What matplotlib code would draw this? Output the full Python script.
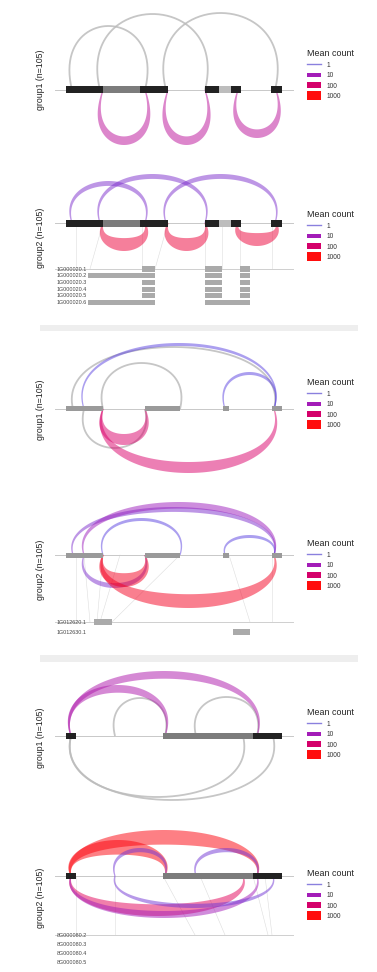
import numpy as np
import matplotlib
matplotlib.use("Agg")
import matplotlib.pyplot as plt
from matplotlib.patches import Rectangle, Polygon, Patch
from matplotlib.lines import Line2D
from matplotlib.legend_handler import HandlerPatch

plt.rcParams['font.family'] = ['Liberation Sans', 'DejaVu Sans']

# ---------------- data ----------------
# gene 1 exons (position units)
g1_exon_start = [66, 103, 140, 205, 219, 231, 271]
g1_exon_end = [103, 140, 168, 219, 231, 241, 282]
g1_exon_shade = ['dark', 'mid', 'dark', 'dark', 'light', 'dark', 'dark']
# gene 2 exons
g2_exon_start = [66, 145, 223, 272]
g2_exon_end = [103, 180, 229, 282]
g2_exon_shade = ['grey', 'grey', 'grey', 'grey']
# gene 3 exons
g3_exon_start = [66, 163, 253]
g3_exon_end = [76, 253, 282]
g3_exon_shade = ['dark', 'mid', 'dark']

# junctions: start, end, side (+1 above / -1 below), arc height, mean count (0 = none)
g1_grp1_jx_start = [72, 100, 166, 103, 168, 238]
g1_grp1_jx_end = [145, 205, 275, 145, 205, 276]
g1_grp1_jx_side = [1, 1, 1, -1, -1, -1]
g1_grp1_jx_height = [64, 76, 77, 55, 55, 48]
g1_grp1_jx_count = [0, 0, 0, 25, 25, 25]

g1_grp2_jx_start = [72, 100, 166, 103, 168, 238]
g1_grp2_jx_end = [145, 205, 275, 145, 205, 276]
g1_grp2_jx_side = [1, 1, 1, -1, -1, -1]
g1_grp2_jx_height = [42, 49, 49, 28, 28, 23]
g1_grp2_jx_count = [3, 3, 3, 300, 300, 300]

g2_grp1_jx_start = [73, 103, 84, 225, 84, 103, 103]
g2_grp1_jx_end = [274, 180, 274, 274, 145, 145, 274]
g2_grp1_jx_side = [1, 1, 1, 1, -1, -1, -1]
g2_grp1_jx_height = [62, 46, 66, 37, 39, 36, 64]
g2_grp1_jx_count = [0, 0, 1, 1, 0, 100, 100]

g2_grp2_jx_start = [73, 84, 103, 225, 84, 103, 103]
g2_grp2_jx_end = [274, 274, 180, 274, 145, 145, 274]
g2_grp2_jx_side = [1, 1, 1, 1, -1, -1, -1]
g2_grp2_jx_height = [48, 53, 37, 20, 33, 32, 53]
g2_grp2_jx_count = [3, 8, 1, 1, 3, 500, 500]

g3_grp1_jx_start = [115, 196, 71, 71, 71, 71]
g3_grp1_jx_end = [165, 257, 257, 165, 243, 273]
g3_grp1_jx_side = [1, 1, 1, 1, -1, -1]
g3_grp1_jx_height = [38, 39, 65, 51, 61, 64]
g3_grp1_jx_count = [0, 0, 15, 15, 0, 0]

g3_grp2_jx_start = [71, 71, 115, 196, 71, 71, 115]
g3_grp2_jx_end = [257, 165, 165, 257, 243, 257, 273]
g3_grp2_jx_side = [1, 1, 1, 1, -1, -1, -1]
g3_grp2_jx_height = [46, 36, 28, 28, 40, 42, 32]
g3_grp2_jx_count = [800, 800, 2, 2, 150, 10, 2]

# transcripts
g1_tx_names = ['1G000020.1', '1G000020.2', '1G000020.3', '1G000020.4', '1G000020.5', '1G000020.6']
g1_tx_row = [0, 1, 2, 3, 4, 5, 0, 1, 2, 3, 4, 5, 0, 1, 2, 3, 4, 5]
g1_tx_start = [142, 88, 142, 142, 142, 88, 205, 205, 205, 205, 205, 205, 240, 240, 240, 240, 240, 222]
g1_tx_end = [155, 155, 155, 155, 155, 155, 222, 222, 222, 222, 222, 222, 250, 250, 250, 250, 250, 250]
g2_tx_names = ['1G012620.1', '1G012630.1']
g2_tx_row = [0, 1]
g2_tx_start = [94, 233]
g2_tx_end = [112, 250]
g3_tx_names = ['8G000080.2', '8G000080.3', '8G000080.4', '8G000080.5']
g3_tx_row = []
g3_tx_start = []
g3_tx_end = []

# faint guide lines from splice sites (baseline pos -> transcript track pos)
g1_guide_top = [76, 103, 142, 168, 205, 222, 240, 272]
g1_guide_bot = [76, 90, 142, 155, 205, 222, 240, 272]
g2_guide_top = [76, 84, 103, 120, 180, 229, 272]
g2_guide_bot = [76, 90, 97, 100, 112, 250, 272]
g3_guide_top = [76, 115, 163, 200, 253, 265]
g3_guide_bot = [76, 115, 195, 225, 268, 272]

legend_counts = [1, 10, 100, 1000]
legend_labels = ['1', '10', '100', '1000']

# ---------------- style ----------------
W, H = 377, 972
fig = plt.figure(figsize=(W / 100, H / 100), dpi=100)

count_colors = np.array([[0.35, 0.25, 0.88], [0.64, 0.10, 0.72], [0.86, 0.0, 0.42], [1.0, 0.0, 0.0]])
legend_colors = ['#8a80de', '#a31cb8', '#d4006a', '#ff0d0d']
shade_colors = {'dark': '#222222', 'mid': '#7c7c7c', 'light': '#bdbdbd', 'grey': '#9a9a9a'}


def count_color(c):
    lc = np.clip(np.log10(c), 0, 3)
    i = min(int(lc), 2)
    f = lc - i
    return tuple(count_colors[i] * (1 - f) + count_colors[i + 1] * f)


def bezier(x1, x2, h, b, n=140):
    t = np.linspace(0, 1, n)
    c = h / 0.75
    px = [x1, x1 - b, x2 + b, x2]
    py = [0, c, c, 0]
    x = (1 - t) ** 3 * px[0] + 3 * (1 - t) ** 2 * t * px[1] + 3 * (1 - t) * t ** 2 * px[2] + t ** 3 * px[3]
    y = (1 - t) ** 3 * py[0] + 3 * (1 - t) ** 2 * t * py[1] + 3 * (1 - t) * t ** 2 * py[2] + t ** 3 * py[3]
    return t, x, y


def draw_junction(ax, x1, x2, side, height, count):
    if count <= 0:
        t, x, y = bezier(x1, x2, side * height, 0.33 * height)
        ax.plot(x, y, color='#bcbcbc', lw=1.3, alpha=0.85, solid_capstyle='butt', zorder=2)
        return
    thick = 3 + 4 * np.log10(count)
    hc = height - thick / 2
    t, x, y = bezier(x1, x2, side * hc, 0.4 * height)
    dx = np.gradient(x)
    dy = np.gradient(y)
    nrm = np.hypot(dx, dy)
    nx, ny = -dy / nrm, dx / nrm
    w = 1.2 + (thick - 1.2) * np.sin(np.pi * t) ** 1.3
    xo, yo = x + nx * w / 2, y + ny * w / 2
    xi, yi = x - nx * w / 2, y - ny * w / 2
    pts = np.column_stack([np.concatenate([xo, xi[::-1]]), np.concatenate([yo, yi[::-1]])])
    ax.add_patch(Polygon(pts, closed=True, facecolor=count_color(count), edgecolor='none',
                         alpha=0.5, zorder=3))


def legend_patch(legend, orig_handle, xdescent, ydescent, width, height, fontsize):
    scale = orig_handle.get_label_scale()
    hh = height * scale
    return Rectangle((-xdescent, -ydescent + (height - hh) / 2), width, hh)


class ScaledPatch(Patch):
    def __init__(self, scale, **kw):
        super().__init__(**kw)
        self._scale = scale

    def get_label_scale(self):
        return self._scale


def make_panel(top, bottom, base, ylabel, label_y, exon_s, exon_e, exon_sh, exon_h,
               js, je, jside, jh, jc, leg_top, tx=None):
    ax = fig.add_axes([0, 1 - bottom / H, 1, (bottom - top) / H])
    ax.set_xlim(0, W)
    ax.set_ylim(base - bottom, base - top)
    ax.set_xticks([])
    ax.set_yticks([])
    for s in ax.spines.values():
        s.set_visible(False)
    ax.patch.set_alpha(0)
    ax.set_ylabel(ylabel, fontsize=6.3, color='#222222', labelpad=0)
    ax.yaxis.set_label_coords(45 / W, (base - label_y - (base - bottom)) / (bottom - top))
    # baseline
    ax.plot([55, 293], [0, 0], color='#c8c8c8', lw=0.7, zorder=1)
    # transcripts track
    if tx is not None:
        names, rows, ts, te, off, gtop, gbot = tx
        for a, b2 in zip(gtop, gbot):
            ax.plot([a, b2], [0, -off], color='#dddddd', lw=0.4, zorder=0)
        ax.plot([55, 293], [-off, -off], color='#cfcfcf', lw=0.7, zorder=1)
        step = 6.7 if len(names) > 2 else 10
        if len(names) == 4:
            step = 9
        for i, nm in enumerate(names):
            ax.text(57, -off - i * step, nm, fontsize=3.9, color='#444444', va='center', ha='left')
        for r, a, b2 in zip(rows, ts, te):
            ax.add_patch(Rectangle((a, -off - r * step - 2.6), b2 - a, 5.2, facecolor='#aaaaaa',
                                   edgecolor='none', zorder=2))
    # junctions
    for a, b2, sd, hh, c in zip(js, je, jside, jh, jc):
        draw_junction(ax, a, b2, sd, hh, c)
    # exons
    for a, b2, sh in zip(exon_s, exon_e, exon_sh):
        ax.add_patch(Rectangle((a, -exon_h / 2), b2 - a, exon_h, facecolor=shade_colors[sh],
                               edgecolor='none', zorder=4))
    # legend
    handles = [Line2D([], [], color=legend_colors[0], lw=1.0)]
    scales = [0.55, 0.78, 1.1]
    for col, sc in zip(legend_colors[1:], scales):
        handles.append(ScaledPatch(sc, facecolor=col, edgecolor='none'))
    leg = ax.legend(handles, legend_labels, title='Mean count', loc='upper left',
                    bbox_to_anchor=(304 / W, 1 - leg_top / H), bbox_transform=fig.transFigure,
                    frameon=False, fontsize=4.8, title_fontsize=6.4, borderpad=0,
                    handlelength=2.1, handleheight=1.4, labelspacing=0.35, handletextpad=0.8,
                    alignment='left', handler_map={ScaledPatch: HandlerPatch(patch_func=legend_patch)})
    for txt in leg.get_texts():
        txt.set_color('#333333')
    leg.get_title().set_color('#222222')
    return ax


make_panel(0, 158, 90, 'group1 (n=105)', 80, g1_exon_start, g1_exon_end, g1_exon_shade, 7,
           g1_grp1_jx_start, g1_grp1_jx_end, g1_grp1_jx_side, g1_grp1_jx_height, g1_grp1_jx_count, 46)
make_panel(158, 326, 223, 'group2 (n=105)', 238, g1_exon_start, g1_exon_end, g1_exon_shade, 7,
           g1_grp2_jx_start, g1_grp2_jx_end, g1_grp2_jx_side, g1_grp2_jx_height, g1_grp2_jx_count, 207,
           tx=(g1_tx_names, g1_tx_row, g1_tx_start, g1_tx_end, 46, g1_guide_top, g1_guide_bot))
make_panel(332, 480, 409, 'group1 (n=105)', 410, g2_exon_start, g2_exon_end, g2_exon_shade, 5,
           g2_grp1_jx_start, g2_grp1_jx_end, g2_grp1_jx_side, g2_grp1_jx_height, g2_grp1_jx_count, 375)
make_panel(480, 652, 555, 'group2 (n=105)', 570, g2_exon_start, g2_exon_end, g2_exon_shade, 5,
           g2_grp2_jx_start, g2_grp2_jx_end, g2_grp2_jx_side, g2_grp2_jx_height, g2_grp2_jx_count, 536,
           tx=(g2_tx_names, g2_tx_row, g2_tx_start, g2_tx_end, 67, g2_guide_top, g2_guide_bot))
make_panel(662, 808, 736, 'group1 (n=105)', 738, g3_exon_start, g3_exon_end, g3_exon_shade, 6,
           g3_grp1_jx_start, g3_grp1_jx_end, g3_grp1_jx_side, g3_grp1_jx_height, g3_grp1_jx_count, 705)
make_panel(808, 972, 876, 'group2 (n=105)', 898, g3_exon_start, g3_exon_end, g3_exon_shade, 6,
           g3_grp2_jx_start, g3_grp2_jx_end, g3_grp2_jx_side, g3_grp2_jx_height, g3_grp2_jx_count, 866,
           tx=(g3_tx_names, g3_tx_row, g3_tx_start, g3_tx_end, 59, g3_guide_top, g3_guide_bot))

# separators between genes
for y0, hgt in [(325, 6), (655, 7)]:
    fig.add_artist(Rectangle((40 / W, 1 - (y0 + hgt) / H), 318 / W, hgt / H,
                             transform=fig.transFigure, facecolor='#eeeeee', edgecolor='none'))

fig.savefig('out.png', dpi=100, facecolor='white')
